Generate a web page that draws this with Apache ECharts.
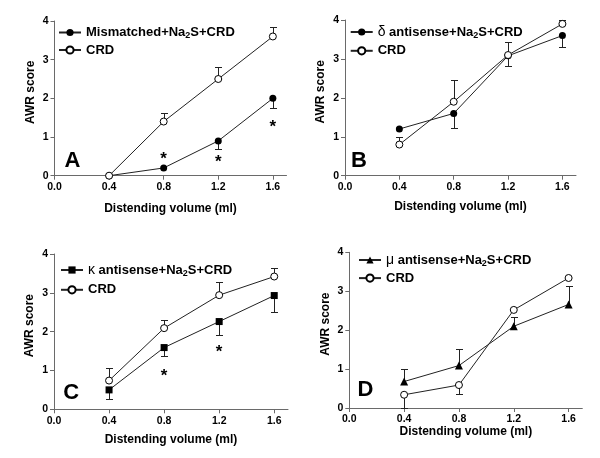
<!DOCTYPE html>
<html><head><meta charset="utf-8">
<script src="https://cdn.jsdelivr.net/npm/echarts@6/dist/echarts.min.js"></script>
<style>html,body{margin:0;padding:0;background:#fff}#c{width:600px;height:458px}</style>
</head><body><div id="c"></div>
<script>
// ---------- data ----------
const volumes = [0.4, 0.8, 1.2, 1.6];
const xTicks = [0, 0.4, 0.8, 1.2, 1.6];
const xTitle = 'Distending volume (ml)';
const yTitle = 'AWR score';
const panelLetters = ['A', 'B', 'C', 'D'];

// Panel A
const aTreatName = 'Mismatched+Na2S+CRD';
const aTreat = [0, 0.2, 0.9, 2.0];
const aTreatSem = [0, 0, 0.22, 0.26];      // drawn downward
const aCRD = [0, 1.4, 2.5, 3.6];
const aCRDSem = [0, 0.21, 0.32, 0.24];     // drawn upward
const aStars = [[0.8, 0.53], [1.2, 0.46], [1.6, 1.35]];

// Panel B
const bTreatName = 'δ antisense+Na2S+CRD';
const bTreat = [1.2, 1.6, 3.08, 3.6];
const bTreatSem = [0, 0.37, 0.26, 0.29];   // downward
const bCRD = [0.8, 1.9, 3.1, 3.9];
const bCRDSem = [0.2, 0.56, 0.34, 0.1];    // upward

// Panel C
const cTreatName = 'κ antisense+Na2S+CRD';
const cTreat = [0.5, 1.59, 2.26, 2.93];
const cTreatSem = [0.23, 0.21, 0.35, 0.43]; // downward
const cCRD = [0.74, 2.09, 2.94, 3.42];
const cCRDSem = [0.32, 0.21, 0.33, 0.21];   // upward
const cStars = [[0.8, 0.95], [1.2, 1.57]];

// Panel D
const dTreatName = 'μ antisense+Na2S+CRD';
const dTreat = [0.68, 1.09, 2.10, 2.66];
const dTreatSem = [0.32, 0.43, 0.23, 0.47]; // upward
const dCRD = [0.34, 0.59, 2.52, 3.34];
const dCRDSem = [0.34, 0.23, 0, 0];         // downward

// ---------- styles ----------
const FONT = '"Liberation Sans", Arial, Helvetica, sans-serif';
const LINE = '#222';
const AXIS = '#6a6a6a';

const grids = [
  {left: 54.5, top: 21, width: 232, height: 154.7},
  {left: 345, top: 20, width: 231, height: 155.7},
  {left: 54, top: 254, width: 234, height: 155.3},
  {left: 349.3, top: 252.3, width: 233, height: 155.7}
];
const xNameGaps = [27, 25, 24, 16];
const legendPos = [
  {left: 58, top: 24.5, itemGap: 2},
  {left: 349.7, top: 24, itemGap: 3.3},
  {left: 60, top: 262, itemGap: 4.3},
  {left: 358, top: 252, itemGap: 2.6}
];
const letterPos = [[72.5, 160.5], [359, 160.5], [71.3, 393], [365.5, 390]];

function lineSeries(name, vals, symbol, filled, idx) {
  return {
    type: 'line', name: name, xAxisIndex: idx, yAxisIndex: idx,
    data: volumes.map((v, i) => [v, vals[i]]),
    symbol: symbol, symbolSize: symbol === 'triangle' ? 8 : 7,
    showAllSymbol: true,
    lineStyle: {color: LINE, width: 1},
    itemStyle: filled ? {color: '#000', borderColor: '#000', borderWidth: 0}
                      : {color: '#fff', borderColor: '#000', borderWidth: 1},
    emphasis: {disabled: true},
    z: 3, animation: false
  };
}
function errSeries(vals, sem, dir, idx) {
  const data = [];
  volumes.forEach((v, i) => { if (sem[i] > 0) data.push([v, vals[i], vals[i] + dir * sem[i]]); });
  return {
    type: 'custom', xAxisIndex: idx, yAxisIndex: idx, z: 2, animation: false,
    silent: true,
    data: data,
    renderItem: function (params, api) {
      const p0 = api.coord([api.value(0), api.value(1)]);
      const p1 = api.coord([api.value(0), api.value(2)]);
      const x = Math.round(p0[0]) + 0.5, y1 = Math.round(p1[1]) + 0.5;
      const hw = 3.5;
      return {type: 'group', children: [
        {type: 'line', shape: {x1: x, y1: p0[1], x2: x, y2: y1}, style: {stroke: LINE, lineWidth: 1}},
        {type: 'line', shape: {x1: x - hw, y1: y1, x2: x + hw, y2: y1}, style: {stroke: LINE, lineWidth: 1}}
      ]};
    }
  };
}
function starSeries(stars, idx) {
  return {
    type: 'scatter', xAxisIndex: idx, yAxisIndex: idx, data: stars,
    symbolSize: 1, itemStyle: {opacity: 0}, silent: true, animation: false,
    label: {show: true, position: 'inside', formatter: '*', color: '#000',
      fontFamily: FONT, fontWeight: 'bold', fontSize: 17, offset: [0, 4], opacity: 1}
  };
}

const xAxes = [], yAxes = [], legends = [], graphics = [];
grids.forEach((g, i) => {
  xAxes.push({
    type: 'value', gridIndex: i, min: 0, max: 1.7, interval: 0.4,
    name: xTitle, nameLocation: 'middle', nameGap: xNameGaps[i],
    nameTextStyle: {fontFamily: FONT, fontWeight: 'bold', fontSize: 12, color: '#000'},
    axisLine: {show: true, onZero: false, lineStyle: {color: AXIS, width: 1}},
    axisTick: {show: true, inside: false, length: 4, lineStyle: {color: AXIS}, customValues: xTicks},
    axisLabel: {show: true, margin: 6, fontFamily: FONT, fontWeight: 'bold', fontSize: 10.5, color: '#000',
      customValues: xTicks, formatter: v => v.toFixed(1)},
    splitLine: {show: false}
  });
  yAxes.push({
    type: 'value', gridIndex: i, min: 0, max: 4, interval: 1,
    name: yTitle, nameLocation: 'middle', nameGap: 18, nameRotate: 90,
    nameTextStyle: {fontFamily: FONT, fontWeight: 'bold', fontSize: 12, color: '#000', padding: [0, 0, 0, 12]},
    axisLine: {show: true, onZero: false, lineStyle: {color: AXIS, width: 1}},
    axisTick: {show: true, inside: false, length: 4, lineStyle: {color: AXIS}},
    axisLabel: {show: true, margin: 6, fontFamily: FONT, fontWeight: 'bold', fontSize: 10.5, color: '#000'},
    splitLine: {show: false}
  });
  graphics.push({
    type: 'text', x: letterPos[i][0], y: letterPos[i][1], silent: true,
    style: {text: panelLetters[i], font: 'bold 22px ' + FONT, fill: '#000', textAlign: 'center', textVerticalAlign: 'middle'}
  });
});

const treatNames = [aTreatName, bTreatName, cTreatName, dTreatName];
treatNames.forEach((n, i) => {
  legends.push({
    orient: 'vertical', left: legendPos[i].left, top: legendPos[i].top, padding: 0,
    itemGap: legendPos[i].itemGap, itemWidth: 22, itemHeight: 9,
    selectedMode: false, data: [n, 'CRD'],
    formatter: function (name) {
      let s = name.replace('Na2S', 'Na{sub|2}S');
      s = s.replace(/^([δκμ])/, '{greek|$1}');
      return s;
    },
    textStyle: {fontFamily: FONT, fontWeight: 'bold', fontSize: 13, color: '#000', lineHeight: 15,
      rich: {
        sub: {fontFamily: FONT, fontWeight: 'bold', fontSize: 9, lineHeight: 8, padding: [7, 0, 0, 0], color: '#000'},
        greek: {fontFamily: FONT, fontWeight: 'normal', fontSize: 14, lineHeight: 15, color: '#000'}
      }}
  });
});

const series = [
  errSeries(aTreat, aTreatSem, -1, 0), errSeries(aCRD, aCRDSem, 1, 0),
  lineSeries(aTreatName, aTreat, 'circle', true, 0), lineSeries('CRD', aCRD, 'circle', false, 0),
  starSeries(aStars, 0),
  errSeries(bTreat, bTreatSem, -1, 1), errSeries(bCRD, bCRDSem, 1, 1),
  lineSeries(bTreatName, bTreat, 'circle', true, 1), lineSeries('CRD', bCRD, 'circle', false, 1),
  errSeries(cTreat, cTreatSem, -1, 2), errSeries(cCRD, cCRDSem, 1, 2),
  lineSeries(cTreatName, cTreat, 'rect', true, 2), lineSeries('CRD', cCRD, 'circle', false, 2),
  starSeries(cStars, 2),
  errSeries(dTreat, dTreatSem, 1, 3), errSeries(dCRD, dCRDSem, -1, 3),
  lineSeries(dTreatName, dTreat, 'triangle', true, 3), lineSeries('CRD', dCRD, 'circle', false, 3)
];

const chart = echarts.init(document.getElementById('c'), null, {renderer: 'canvas'});
chart.setOption({
  backgroundColor: '#fff',
  animation: false,
  grid: grids.map(g => Object.assign({outerBoundsMode: 'none', containLabel: false}, g)),
  xAxis: xAxes, yAxis: yAxes, legend: legends, graphic: graphics, series: series
});
</script></body></html>
